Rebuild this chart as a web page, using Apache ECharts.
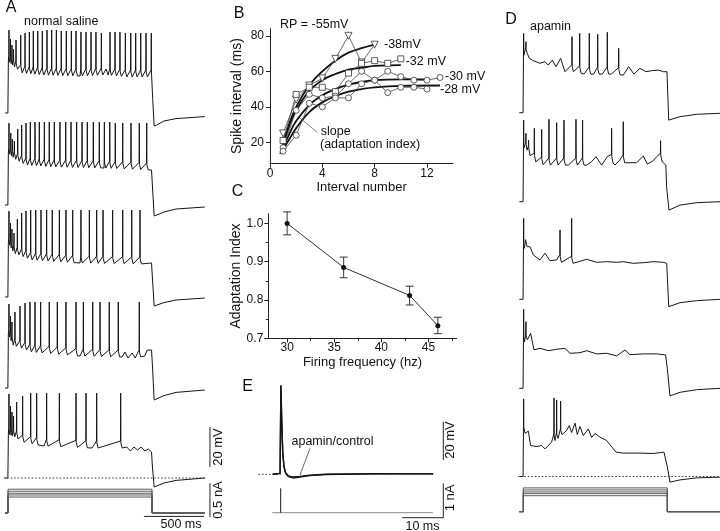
<!DOCTYPE html>
<html><head><meta charset="utf-8">
<script src="https://cdn.jsdelivr.net/npm/echarts@6/dist/echarts.min.js"></script>
<style>html,body{margin:0;padding:0;background:#fff}#c{width:720px;height:531px}</style>
</head><body><div id="c"></div><script>
// ================= DATA =================
// Panel A (normal saline): spikes [time ms, peak mV] and sub-threshold envelope [time ms, mV]
const a1Spikes=[[8,41.5],[21,37],[33,34],[46,32],[67,36.5],[106,39],[142,40],[178,40.5],[211,41],[248,41],[286,41],[325,41.5],[364,41.5],[403,41.5],[444,41],[486,41],[528,41],[567,41],[608,40.5],[650,40.5],[692,40.5],[733,40.5],[778,40],[850,40.5],[892,40.5],[933,40.5],[978,40],[1023,40],[1064,40],[1106,40],[1150,40],[1194,40]];
const a1Env=[[-25,0],[-1,0],[3,26],[55,23],[120,20],[300,19],[600,18.5],[800,19],[817,22],[835,19],[1000,18],[1196,18],[1203,10],[1218,-6.5],[1240,-6],[1300,-4],[1400,-2.8],[1640,-1.8]];
const a2Spikes=[[8,41],[23,36],[36,33],[53,32],[81,38],[114,40],[150,41],[186,41.5],[225,41.5],[261,41.5],[303,41.5],[344,41.5],[386,41.5],[433,41.5],[481,41.5],[525,41.5],[572,41.5],[617,41.5],[661,41.5],[711,41.5],[761,41.5],[803,41.5],[848,41.5],[894,41],[956,41],[1025,41],[1094,41],[1156,41]];
const a2Env=[[-25,0],[-1,0],[3,26],[60,23],[150,20],[400,19],[800,18.5],[1196,17.5],[1203,10],[1218,-5.5],[1300,-3.5],[1400,-2],[1640,-1]];
const a3Spikes=[[8,43],[21,37],[33,34],[50,32],[78,39],[114,42],[150,43],[189,43.5],[231,43.5],[275,43.5],[322,43.5],[369,43.5],[428,43.5],[483,43.5],[539,43.5],[608,43.5],[678,43.5],[739,43.5],[792,43.5],[872,43.5],[956,43.5],[1031,43.5],[1100,43.5]];
const a3Env=[[-25,0],[-1,0],[3,27],[50,22],[200,18.5],[600,17],[1100,16.5],[1196,17],[1203,10],[1218,-4.5],[1300,-2.8],[1400,-1.5],[1640,-0.5]];
const a4Spikes=[[8,42],[21,36],[33,33],[58,38],[100,41],[142,42.5],[183,43],[225,43],[272,43],[344,43],[411,43],[483,43],[567,43],[628,43],[706,43],[767,43],[844,43],[919,43],[1094,43]];
const a4Env=[[-25,0],[-1,0],[3,27],[40,21.5],[200,18],[600,16],[950,15.5],[975,18],[1000,15],[1035,17.5],[1060,15],[1140,16],[1160,19],[1196,19],[1203,12],[1218,-6],[1300,-3.8],[1400,-2.2],[1640,-1]];
const a5Spikes=[[8,42],[21,36],[33,33],[46,31],[72,38],[122,41],[189,42.5],[239,42.5],[322,42.5],[428,42.5],[567,42.5],[650,42.5],[739,42.5],[939,42.5]];
const a5Env=[[-25,0],[-1,0],[3,22],[60,20.5],[120,18],[300,16],[700,15],[950,15],[990,15.5],[1020,13.5],[1050,15.5],[1080,14],[1110,15.5],[1140,13.5],[1170,14.5],[1196,13],[1203,6],[1218,-4.5],[1300,-2.5],[1400,-1.2],[1640,0]];

// Panel D (apamin)
const d1Spikes=[[3,39.7],[22,35.5],[406,38],[470,39.7],[550,39.7],[620,39.2],[700,40.2],[795,32.2]];
const d1Env=[[-33,0],[-2,0],[2,26],[14,28.8],[33,29.7],[50,27.2],[83,26],[139,24.7],[181,25.5],[208,23.8],[242,26.3],[272,23],[311,27.2],[347,20.5],[433,20.5],[506,19.3],[586,19.3],[658,19.3],[733,19.3],[833,18.8],[878,23],[922,19.3],[972,22.2],[1022,20.5],[1070,21],[1125,21.3],[1167,20.5],[1197,20.5],[1212,-3.7],[1222,-4.5],[1306,-2],[1445,-0.8],[1639,-0.3]];
const d2Spikes=[[3,40.8],[22,34.2],[44,30.8],[92,36.7],[153,36.2],[214,41.2],[278,39.5],[339,40.8],[439,41.2],[494,40.8],[736,36.7],[833,40],[1144,30.5]];
const d2Env=[[-33,0],[-2,0],[2,24],[11,26.7],[31,25.8],[61,22.5],[117,19.2],[178,18.3],[239,18.3],[303,18.3],[375,18.3],[461,18.3],[528,18.3],[569,20],[606,22.5],[653,18.3],[700,22.5],[764,18.3],[806,21],[861,18.8],[944,19.5],[1000,22.8],[1033,18.8],[1083,20.5],[1111,22.5],[1172,19.2],[1188,18.3],[1194,7.5],[1214,-4.2],[1306,-1.7],[1444,-0.5],[1639,0]];
const d3Spikes=[[3,40.5],[20,30],[306,34.7],[403,40.5]];
const d3Env=[[-33,0],[-2,0],[2,24],[14,26.3],[56,26.3],[83,22.2],[139,19.7],[181,23],[222,19.3],[278,19.7],[333,18],[425,18],[528,20],[611,18.5],[694,18.8],[778,18.5],[833,18.8],[917,18],[1000,18.3],[1083,18.8],[1167,18.5],[1195,18],[1212,-3.7],[1306,-1.7],[1444,-0.7],[1639,0]];
const d4Spikes=[[3,39.5],[22,33.3]];
const d4Env=[[-33,0],[-2,0],[2,23],[14,23.3],[33,24.2],[61,27.5],[89,19.2],[139,20],[208,18.8],[278,19.5],[347,20],[389,17.5],[472,17.8],[528,18.8],[611,17.2],[694,17.5],[778,16.2],[847,19.2],[889,16.8],[1000,17.2],[1111,17.2],[1186,16.7],[1200,10],[1222,-3.8],[1306,-2],[1444,-0.7],[1639,0]];
const d5Spikes=[[3,38.8],[256,39.3],[278,38.3],[311,37.7]];
const d5Env=[[-33,0],[-2,0],[2,22],[22,21.3],[42,22.7],[61,15.5],[111,15],[153,15.5],[181,13.8],[236,17.2],[267,18],[289,19],[328,21.3],[361,23],[383,25.5],[403,22],[431,26.7],[450,21],[472,25],[500,20.5],[542,23.8],[569,19.5],[597,21.5],[639,19.7],[694,18],[772,12.2],[833,11.7],[972,11.7],[1083,11.5],[1172,12.2],[1188,12],[1200,5],[1222,-2.8],[1306,-1.7],[1444,-0.7],[1639,-0.3]];

// injected current steps (nA), step duration (ms)
const currentLevels=[0.235,0.265,0.29,0.32,0.35];
const stepStart=0, stepEnd=1200, sweepEnd=1640;

// Panel B: spike interval (ms) vs interval number
const intervalNumbers=[1,2,3,4,5,6,7,8,9,10,11,12,13];
const interval38=[25,44,52,56,67,80,65,75];
const interval32=[21,47,51,51,48.5,59,64.5,66,64.5,67];
const interval30=[17,38,47,45,46,53,60,55,60,57,55,55,56.5];
const interval28=[15,24,42,40,45,45,53,55,48,51,51,50];
const fit38=[[0.8,13.5],[1.5,31],[2,40],[3,52],[4,60],[5,66],[6,70.5],[7,73],[8,75]];
const fit32=[[0.8,13.5],[1.5,30],[2,38],[3,49],[4,55],[5,58.5],[6,61],[7,62],[8,63],[10,63.5]];
const fit30=[[0.8,13.5],[1.5,25],[2,32],[3,41],[4,46.5],[5,50],[6,52.5],[7,54],[8,55],[10,55.5],[12,55.5]];
const fit28=[[0.8,13.5],[1.5,22],[2,28],[3,37],[4,42.5],[5,46],[6,48.5],[7,50],[8,51],[10,51.8],[13,52]];
const bXTicks=[0,4,8,12];
const bYTicks=[20,40,60,80];

// Panel C: adaptation index vs firing frequency
const firingFreq=[30,36,43,46];
const adaptIndex=[1.0,0.885,0.812,0.733];
const adaptLow=[0.970,0.858,0.787,0.712];
const adaptHigh=[1.030,0.912,0.836,0.755];
const cXTicks=[30,35,40,45];
const cXMinor=[32.5,37.5,42.5,47.5];
const cYTicks=[0.7,0.8,0.9,1.0];
const cYMinor=[0.75,0.85,0.95];

// Panel E: single spike (ms, mV) and stimulus (nA)
const eControl=[[-1.95,0],[-0.15,0.5],[0.05,46.6],[0.25,28],[0.5,11],[0.8,4],[1.2,0.5],[1.85,-1.2],[3,-1.9],[4.7,-1.5],[7,-0.7],[11,-0.1],[22.6,0.2],[37.2,0.2]];
const eApamin=[[-1.95,0],[-0.15,0.5],[0.05,46],[0.25,28.5],[0.5,11.5],[0.8,4.2],[1.2,0.8],[1.85,-0.8],[3,-1.4],[4.7,-1.1],[7,-0.5],[11,0],[22.6,0.3],[37.2,0.2]];
const eStimAmp=0.71;

// ================= BUILD =================
const FONT='Liberation Sans, Arial, sans-serif';
const INK='#161616';
function envAt(env,t){
  if(t<=env[0][0])return env[0][1];
  for(let i=1;i<env.length;i++){if(t<=env[i][0]){const a=env[i-1],b=env[i];return a[1]+(b[1]-a[1])*(t-a[0])/(b[0]-a[0]);}}
  return env[env.length-1][1];
}
function buildTrace(env,spikes){
  const pts=[],win=[];
  spikes.forEach((s,i)=>{
    const ts=s[0],P=s[1];
    const nxt=i<spikes.length-1?spikes[i+1][0]:ts+60;
    const d=Math.min(12,0.4*(nxt-ts));
    const e=envAt(env,ts);
    pts.push([ts-1.5,e+3.5],[ts,P],[ts+1.5,e+2.5],[ts+d,envAt(env,ts+d)]);
    win.push([ts-2,ts+d]);
  });
  env.forEach(p=>{if(!win.some(w=>p[0]>=w[0]&&p[0]<=w[1]))pts.push(p);});
  pts.sort((a,b)=>a[0]-b[0]);
  return pts;
}
function stepTrace(level,t0){return [[t0,0],[stepStart,0],[stepStart,level],[stepEnd,level],[stepEnd,0],[sweepEnd,0]];}

const grids=[],xAxes=[],yAxes=[],series=[];
function addGrid(rect,xr,yr,ex,ey){
  const i=grids.length;
  grids.push(Object.assign({containLabel:false,outerBoundsMode:'none'},rect));
  xAxes.push(Object.assign({type:'value',gridIndex:i,min:xr[0],max:xr[1],show:false},ex||{}));
  yAxes.push(Object.assign({type:'value',gridIndex:i,min:yr[0],max:yr[1],show:false},ey||{}));
  return i;
}
function addLine(gi,data,style,extra){
  series.push(Object.assign({type:'line',xAxisIndex:gi,yAxisIndex:gi,data:data,symbol:'none',animation:false,clip:false,silent:true,lineStyle:style},extra||{}));
}
const traceStyle={color:INK,width:1};
const dotStyle={color:'#333',width:1,type:[1.5,2]};
const barStyle={color:'#222',width:1};

// --- Panel A ---
const baseA=[113,205,297,388,478];
const aTr=[[a1Env,a1Spikes],[a2Env,a2Spikes],[a3Env,a3Spikes],[a4Env,a4Spikes],[a5Env,a5Spikes]];
let gA5;
aTr.forEach((tr,k)=>{
  const g=addGrid({left:3.2,width:208.8,top:baseA[k]-90,height:110},[-40,1700],[-10,45]);
  addLine(g,buildTrace(tr[0],tr[1]),traceStyle);
  if(k===4)gA5=g;
});
addLine(gA5,[[-65,0],[1640,0]],dotStyle);
addLine(gA5,[[1683,5.5],[1683,25.5]],barStyle);
const gAI=addGrid({left:3.2,width:208.8,top:479,height:40.8},[-40,1700],[-0.1,0.5]);
currentLevels.forEach(L=>addLine(gAI,stepTrace(L,-25),{color:'#5a5a5a',width:1}));
addLine(gAI,[[1133,-0.05],[1633,-0.05]],barStyle);
addLine(gAI,[[1683,-0.06],[1683,0.44]],barStyle);

// --- Panel D ---
const baseD=[112.7,201.7,299.3,388.3,476.5];
const dTr=[[d1Env,d1Spikes],[d2Env,d2Spikes],[d3Env,d3Spikes],[d4Env,d4Spikes],[d5Env,d5Spikes]];
let gD5;
dTr.forEach((tr,k)=>{
  const g=addGrid({left:518.5,width:201.6,top:baseD[k]-90,height:110},[-40,1640],[-10,45]);
  addLine(g,buildTrace(tr[0],tr[1]),traceStyle);
  if(k===4)gD5=g;
});
addLine(gD5,[[-50,0],[1640,0]],dotStyle);
const gDI=addGrid({left:518.5,width:201.6,top:477.7,height:40.8},[-40,1640],[-0.1,0.5]);
currentLevels.forEach(L=>addLine(gDI,stepTrace(L,-33),{color:'#5a5a5a',width:1}));

// --- Panel E ---
const gE=addGrid({left:256.1,width:196.8,top:378.55,height:114.9},[-6,42],[-10,50]);
addLine(gE,[[-5.4,0],[0,0]],dotStyle);
addLine(gE,eControl,{color:INK,width:1.4});
addLine(gE,eApamin,{color:INK,width:1.4});
addLine(gE,[[39.66,7.5],[39.66,27.5]],barStyle);
const gEI=addGrid({left:256.1,width:196.8,top:478.3,height:41.28},[-6,42],[-0.2,1]);
addLine(gEI,[[-2.05,0],[37.1,0]],{color:'#8a8a8a',width:1});
addLine(gEI,[[0,0],[0,eStimAmp]],{color:INK,width:1});
addLine(gEI,[[29.66,-0.145],[39.66,-0.145],[39.66,0.855]],barStyle);

// --- Panel B ---
const axLine={show:true,lineStyle:{color:'#222',width:1}};
const axLbl={color:'#111',fontSize:12,fontFamily:FONT};
const nameStyle={color:'#111',fontSize:13,fontFamily:FONT};
const gB=addGrid({left:270,width:183.1,top:28.7,height:134.9},[0,14],[8,84],
  {show:true,axisLine:axLine,axisTick:{show:true,length:4,customValues:bXTicks,lineStyle:{color:'#222'}},axisLabel:Object.assign({margin:4,customValues:bXTicks},axLbl),splitLine:{show:false},
   name:'Interval number',nameLocation:'middle',nameGap:14,nameTextStyle:nameStyle},
  {show:true,axisLine:axLine,axisTick:{show:true,length:4,customValues:bYTicks,lineStyle:{color:'#222'}},axisLabel:Object.assign({margin:6,customValues:bYTicks},axLbl),splitLine:{show:false},
   name:'Spike interval (ms)',nameLocation:'middle',nameGap:26,nameRotate:90,nameTextStyle:Object.assign({},nameStyle,{fontSize:14})});
[fit38,fit32,fit30,fit28].forEach(f=>addLine(gB,f,{color:'#111',width:1.8},{smooth:0.4}));
function bSeries(vals,sym,rot,size){
  series.push({type:'line',xAxisIndex:gB,yAxisIndex:gB,data:vals.map((v,i)=>[intervalNumbers[i],v]),animation:false,silent:true,
    symbol:sym,symbolRotate:rot,symbolSize:size,showAllSymbol:true,
    itemStyle:{color:'#fff',borderColor:'#333',borderWidth:0.8},lineStyle:{color:'#444',width:0.8}});
}
bSeries(interval38,'triangle',180,7);
bSeries(interval32,'rect',180,6);
bSeries(interval30,'circle',0,6);
bSeries(interval28,'circle',0,6);

// --- Panel C ---
const gC=addGrid({left:268.3,width:188.4,top:213.8,height:124.5},[28,48],[0.7,1.025],
  {show:true,axisLine:axLine,axisTick:{show:true,length:4,customValues:cXTicks,lineStyle:{color:'#222'}},axisLabel:Object.assign({margin:3,customValues:cXTicks},axLbl),splitLine:{show:false},
   name:'Firing frequency (hz)',nameLocation:'middle',nameGap:18,nameTextStyle:nameStyle},
  {show:true,axisLine:axLine,axisTick:{show:true,length:4,customValues:cYTicks,lineStyle:{color:'#222'}},axisLabel:Object.assign({margin:5,customValues:cYTicks,formatter:v=>v.toFixed(1)},axLbl),splitLine:{show:false},
   name:'Adaptation Index',nameLocation:'middle',nameGap:23,nameRotate:90,nameTextStyle:Object.assign({},nameStyle,{fontSize:14})});
xAxes.push({type:'value',gridIndex:gC,min:28,max:48,position:'bottom',axisLine:{show:false},axisLabel:{show:false},splitLine:{show:false},
  axisTick:{show:true,length:2.5,customValues:cXMinor,lineStyle:{color:'#222'}}});
yAxes.push({type:'value',gridIndex:gC,min:0.7,max:1.025,position:'left',axisLine:{show:false},axisLabel:{show:false},splitLine:{show:false},
  axisTick:{show:true,length:2.5,customValues:cYMinor,lineStyle:{color:'#222'}}});
series.push({type:'custom',xAxisIndex:gC,yAxisIndex:gC,animation:false,silent:true,
  data:firingFreq.map((f,i)=>[f,adaptLow[i],adaptHigh[i]]),encode:{x:0,y:[1,2]},
  renderItem:(p,api)=>{const x=api.value(0);const a=api.coord([x,api.value(1)]),b=api.coord([x,api.value(2)]);const w=4;const st={stroke:'#333',lineWidth:1};
    return {type:'group',children:[
      {type:'line',shape:{x1:a[0],y1:a[1],x2:b[0],y2:b[1]},style:st},
      {type:'line',shape:{x1:a[0]-w,y1:a[1],x2:a[0]+w,y2:a[1]},style:st},
      {type:'line',shape:{x1:b[0]-w,y1:b[1],x2:b[0]+w,y2:b[1]},style:st}]};}});
series.push({type:'line',xAxisIndex:gC,yAxisIndex:gC,data:firingFreq.map((f,i)=>[f,adaptIndex[i]]),animation:false,silent:true,
  symbol:'circle',symbolSize:5,itemStyle:{color:'#111'},lineStyle:{color:'#333',width:1}});

// ================= TEXT =================
function txt(t,x,y,o){o=o||{};return {type:'text',x:x,y:y,rotation:o.rot||0,silent:true,z:100,
  style:{text:t,fill:'#111',font:(o.size||12.5)+'px '+FONT,align:o.align||'left',verticalAlign:'middle'}};}
const graphic=[
  txt('A',11,8,{size:16,align:'center'}),
  txt('normal saline',24,21.7),
  txt('B',239,14,{size:16,align:'center'}),
  txt('RP = -55mV',280,25),
  txt('-38mV',384,45),
  txt('-32 mV',405.7,62),
  txt('-30 mV',445,76.7),
  txt('-28 mV',440,90),
  txt('slope',320.7,131.7),
  txt('(adaptation index)',320,145),
  txt('C',237.5,192,{size:16,align:'center'}),
  txt('D',511,20,{size:16,align:'center'}),
  txt('apamin',530,26.7),
  txt('E',247.5,387,{size:16,align:'center'}),
  txt('apamin/control',332.5,441.7,{align:'center'}),
  txt('20 mV',218,447,{rot:Math.PI/2,align:'center',size:13}),
  txt('0.5 nA',218,500,{rot:Math.PI/2,align:'center',size:13}),
  txt('500 ms',181,525,{align:'center'}),
  txt('20 mV',450,440,{rot:Math.PI/2,align:'center',size:13}),
  txt('1 nA',450,498,{rot:Math.PI/2,align:'center',size:13}),
  txt('10 ms',422.5,526.7,{align:'center'}),
  {type:'line',silent:true,shape:{x1:317.3,y1:132.3,x2:298.3,y2:116.7},style:{stroke:'#666',lineWidth:0.8}},
  {type:'line',silent:true,shape:{x1:310,y1:448.3,x2:300,y2:475},style:{stroke:'#444',lineWidth:0.8}}
];

const chart=echarts.init(document.getElementById('c'),null,{renderer:'canvas'});
chart.setOption({animation:false,backgroundColor:'#fff',grid:grids,xAxis:xAxes,yAxis:yAxes,series:series,graphic:graphic});
</script></body></html>
